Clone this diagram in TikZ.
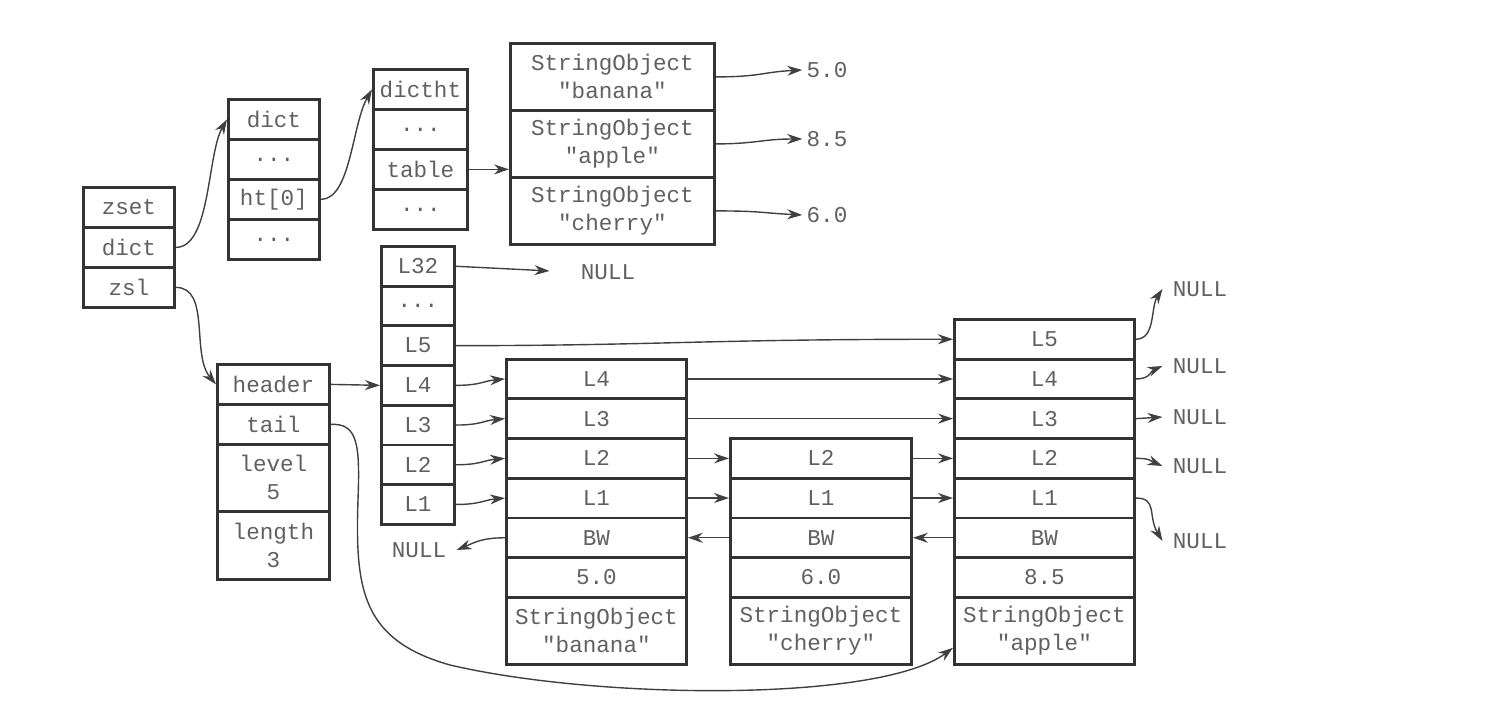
\documentclass[tikz,border=0pt]{standalone}
\usepackage{fontspec}
\setmonofont{Liberation Mono}
\usetikzlibrary{arrows.meta,calc}
\definecolor{txt}{HTML}{606060}
\definecolor{bord}{HTML}{333333}
\definecolor{ln}{HTML}{404040}
\begin{document}
\begin{tikzpicture}[x=0.5pt,y=-0.5pt,
  fnt/.style={font=\ttfamily\fontsize{11.3pt}{14pt}\selectfont},
  cell/.style={fnt,draw=bord,line width=1.4pt,text=txt,anchor=north west,inner sep=0pt,align=center},
  sz/.style 2 args={minimum width=#1*0.5pt,minimum height=#2*0.5pt},
  arr/.style={draw=ln,line width=0.7pt,-{Stealth[length=7.5pt,width=5pt]}},
  lbl/.style={fnt,text=txt,inner xsep=5pt,inner ysep=1pt},
  val/.style={fnt,text=txt,inner xsep=2pt,inner ysep=1pt}]
\useasboundingbox (0,0) rectangle (1488,712);

% zset
\node[cell,sz={91}{40}] (zset) at (82,186) {zset};
\node[cell,sz={91}{40}] (zdict) at (82,226) {dict};
\node[cell,sz={91}{40}] (zsl) at (82,266) {zsl};

% dict
\node[cell,sz={91}{40}] (dname) at (227,98) {dict};
\node[cell,sz={91}{40}] (d1) at (227,138) {...};
\node[cell,sz={91}{40}] (dht) at (227,178) {ht[0]};
\node[cell,sz={91}{40}] (d2) at (227,218) {...};

% dictht
\node[cell,sz={94}{40}] (htname) at (372,68) {dictht};
\node[cell,sz={94}{40}] (h1) at (372,108) {...};
\node[cell,sz={94}{40}] (htable) at (372,148) {table};
\node[cell,sz={94}{40}] (h2) at (372,188) {...};

% string objects in dict
\node[cell,sz={204}{67}] (so1) at (509,42) {StringObject\\"banana"};
\node[cell,sz={204}{67}] (so2) at (509,109) {StringObject\\"apple"};
\node[cell,sz={204}{67}] (so3) at (509,176) {StringObject\\"cherry"};
\node[val] (v1) at (827,70) {5.0};
\node[val] (v2) at (827,139) {8.5};
\node[val] (v3) at (827,215) {6.0};

% zskiplist
\node[cell,sz={112}{40}] (hdr) at (216,363) {header};
\node[cell,sz={112}{40}] (tail) at (216,403) {tail};
\node[cell,sz={112}{67}] (level) at (216,443) {level\\5};
\node[cell,sz={112}{68}] (length) at (216,510) {length\\3};

% header levels
\node[cell,sz={73}{39.7}] (hL32) at (380,245) {L32};
\node[cell,sz={73}{39.7}] (hdots) at (380,284.7) {...};
\node[cell,sz={73}{39.7}] (hL5) at (380,324.4) {L5};
\node[cell,sz={73}{39.7}] (hL4) at (380,364.1) {L4};
\node[cell,sz={73}{39.7}] (hL3) at (380,403.8) {L3};
\node[cell,sz={73}{39.7}] (hL2) at (380,443.5) {L2};
\node[cell,sz={73}{39.7}] (hL1) at (380,483.2) {L1};

% node 1 (banana)
\node[cell,sz={180}{39.7}] (n1L4) at (505,357.7) {L4};
\node[cell,sz={180}{39.7}] (n1L3) at (505,397.4) {L3};
\node[cell,sz={180}{39.7}] (n1L2) at (505,437.1) {L2};
\node[cell,sz={180}{39.7}] (n1L1) at (505,476.8) {L1};
\node[cell,sz={180}{39.7}] (n1BW) at (505,516.5) {BW};
\node[cell,sz={180}{39.7}] (n1sc) at (505,556.2) {5.0};
\node[cell,sz={180}{67}] (n1obj) at (505,595.9) {StringObject\\"banana"};

% node 2 (cherry)
\node[cell,sz={181}{39.7}] (n2L2) at (729,437.1) {L2};
\node[cell,sz={181}{39.7}] (n2L1) at (729,476.8) {L1};
\node[cell,sz={181}{39.7}] (n2BW) at (729,516.5) {BW};
\node[cell,sz={181}{39.7}] (n2sc) at (729,556.2) {6.0};
\node[cell,sz={181}{67}] (n2obj) at (729,595.9) {StringObject\\"cherry"};

% node 3 (apple)
\node[cell,sz={180}{39.7}] (n3L5) at (953,318) {L5};
\node[cell,sz={180}{39.7}] (n3L4) at (953,357.7) {L4};
\node[cell,sz={180}{39.7}] (n3L3) at (953,397.4) {L3};
\node[cell,sz={180}{39.7}] (n3L2) at (953,437.1) {L2};
\node[cell,sz={180}{39.7}] (n3L1) at (953,476.8) {L1};
\node[cell,sz={180}{39.7}] (n3BW) at (953,516.5) {BW};
\node[cell,sz={180}{39.7}] (n3sc) at (953,556.2) {8.5};
\node[cell,sz={180}{67}] (n3obj) at (953,595.9) {StringObject\\"apple"};

% NULL labels
\node[lbl] (nullA) at (608,272) {NULL};
\node[lbl] (nullB) at (419,550) {NULL};
\node[lbl] (nR5) at (1200,289) {NULL};
\node[lbl] (nR4) at (1200,366) {NULL};
\node[lbl] (nR3) at (1200,417) {NULL};
\node[lbl] (nR2) at (1200,466) {NULL};
\node[lbl] (nR1) at (1200,541) {NULL};

% connectors: dict side
\draw[arr] (zdict.east) .. controls +(35,0) and +(-20,35) .. (dname.west);
\draw[arr] (dht.east) .. controls +(30,0) and +(-20,35) .. (htname.west);
\draw[arr] (htable.east) -- (htable.east -| so2.west);
\draw[arr] (so1.east) .. controls +(45,0) and +(-40,2) .. (v1.west);
\draw[arr] (so2.east) .. controls +(40,0) and +(-40,0) .. (v2.west);
\draw[arr] (so3.east) .. controls +(45,0) and +(-40,-2) .. (v3.west);

% connectors: skiplist
\draw[arr] (zsl.east) .. controls +(35,0) and +(-25,-30) .. (hdr.west);
\draw[arr] (hdr.east) -- (hL4.west);
\draw[arr,shorten >=10.5pt] (hL32.east) -- (nullA.west);
\draw[arr] (hL5.east) .. controls +(200,0) and +(-250,0) .. (n3L5.west);
\foreach \i in {4,3,2,1}{
  \draw[arr] (hL\i.east) .. controls +(25,0) and +(-22,2) .. (n1L\i.west);
}
\draw[arr] (n1L4.east) -- (n3L4.west);
\draw[arr] (n1L3.east) -- (n3L3.west);
\draw[arr] (n1L2.east) -- (n2L2.west);
\draw[arr] (n1L1.east) -- (n2L1.west);
\draw[arr] (n2L2.east) -- (n3L2.west);
\draw[arr] (n2L1.east) -- (n3L1.west);
\draw[arr] (n2BW.west) -- (n1BW.east);
\draw[arr] (n3BW.west) -- (n2BW.east);
\draw[arr] (n1BW.west) .. controls +(-25,0) and +(15,-6) .. (nullB.east);

\draw[arr] (n3L5.east) .. controls +(20,0) and +(-12,18) .. (nR5.west);
\draw[arr] (n3L4.east) .. controls +(15,0) and +(-12,5) .. (nR4.west);
\draw[arr] (n3L3.east) -- (nR3.west);
\draw[arr] (n3L2.east) .. controls +(15,0) and +(-12,-5) .. (nR2.west);
\draw[arr] (n3L1.east) .. controls +(22,0) and +(-15,-25) .. (nR1.west);

% tail pointer
\coordinate (tb1) at (358,500);
\coordinate (tb2) at (450,665);
\coordinate (tailend) at ($(n3obj.west)+(0,17)$);
\draw[arr] (tail.east) .. controls (358,423) and (360,445) .. (tb1)
  .. controls (355,590) and (362,640) .. (tb2)
  .. controls (600,700) and (880,702) .. (tailend);
\end{tikzpicture}
\end{document}
